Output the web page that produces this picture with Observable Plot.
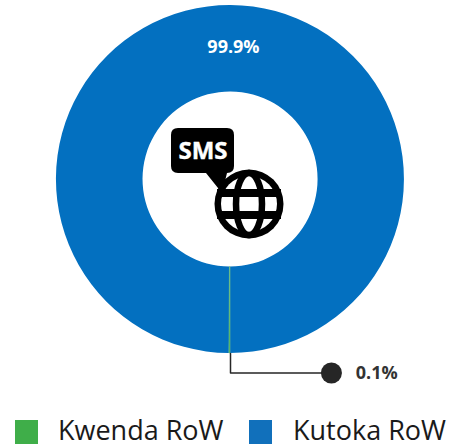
<!DOCTYPE html>
<html><head><meta charset="utf-8">
<script src="https://cdn.jsdelivr.net/npm/d3@7"></script>
<script src="https://cdn.jsdelivr.net/npm/@observablehq/plot@0.6"></script>
<style>
html,body{margin:0;padding:0;background:#fff;overflow:hidden}
body{width:456px;height:448px;font-family:"Open Sans",sans-serif}
svg{display:block}
#legend{position:relative;height:33px;color:#1a1a1a;font-size:27px;line-height:33px}
#legend span{position:absolute;top:-2px;white-space:nowrap}
#legend i{position:absolute;top:5px;width:23px;height:24px}
</style></head><body>
<div id="chart"></div>
<div id="legend"></div>
<script>
const categories = ["Kwenda RoW", "Kutoka RoW"];
const shares = [0.1, 99.9];
const labels = ["0.1%", "99.9%"];
const sliceColors = ["#3fae49", "#0370c0"];
const legendColors = ["#3fae49", "#1170bb"];
const innerRatio = 0.503;

const data = categories.map((name, i) => ({name, share: shares[i], label: labels[i], color: sliceColors[i]}));
const arcs = d3.pie().sort(null).value(d => d.share).startAngle(Math.PI).endAngle(3 * Math.PI)(data);
const midRadius = (1 + innerRatio) / 2;
const blue = arcs[1];
const blueLabel = [{x: 0.017, y: midRadius + 0.006, text: blue.data.label}];
const elbowY = -1.112;
const leader = [{x: 0, y: -1}, {x: 0, y: elbowY}, {x: 0.58, y: elbowY}];
const dotPoint = [leader[2]];
const outLabel = [{x: 0.72, y: elbowY, text: arcs[0].data.label}];

function donut(index, {x, y}) {
  const unit = x(1) - x(0);
  const g = d3.create("svg:g").attr("transform", `translate(${x(0)},${y(0)})`);
  const arc = d3.arc().innerRadius(unit * innerRatio).outerRadius(unit);
  g.selectAll("path").data([arcs[1], arcs[0]]).join("path").attr("d", arc).attr("fill", d => d.data.color)
    .attr("stroke", d => d.index === 0 ? "#6fc08a" : "none").attr("stroke-width", 0.6);
  return g.node();
}

function icon(index, {x, y}) {
  const g = d3.create("svg:g").attr("transform", `translate(${x(0)},${y(0)})`);
  // speech bubble
  g.append("path").attr("fill", "#000")
    .attr("d", "M-52,-51 H-3 Q4,-51 4,-44 V-13 Q4,-6 -3,-6 H-3 L-8,14 L-24,-6 H-52 Q-59,-6 -59,-13 V-44 Q-59,-51 -52,-51 Z");
  g.append("text").attr("x", -27).attr("y", -20).attr("text-anchor", "middle")
    .attr("font-family", "Open Sans").attr("font-weight", 700).attr("font-size", 24).attr("fill", "#fff").attr("stroke", "#fff").attr("stroke-width", 0.4).text("SMS");
  // globe
  const globe = g.append("g").attr("transform", "translate(19,25)");
  globe.append("circle").attr("r", 34.5).attr("fill", "#000");
  globe.append("circle").attr("r", 28).attr("fill", "#fff");
  globe.append("ellipse").attr("rx", 13).attr("ry", 31).attr("fill", "none").attr("stroke", "#000").attr("stroke-width", 6.5);
  globe.append("line").attr("x1", -32).attr("x2", 32).attr("y1", -11).attr("y2", -11).attr("stroke", "#000").attr("stroke-width", 8);
  globe.append("line").attr("x1", -32).attr("x2", 32).attr("y1", 11).attr("y2", 11).attr("stroke", "#000").attr("stroke-width", 8);
  return g.node();
}

const plot = Plot.plot({
  width: 456, height: 415,
  marginTop: 0, marginRight: 0, marginBottom: 0, marginLeft: 0,
  style: {fontFamily: "'Open Sans',sans-serif", background: "#fff"},
  x: {domain: [-1, 1], range: [56, 404], axis: null},
  y: {domain: [-1, 1], range: [353, 5], axis: null},
  marks: [
    donut,
    icon,
    Plot.text(blueLabel, {x: "x", y: "y", text: "text", fill: "#fff", fontWeight: 700, fontSize: 18}),
    Plot.line(leader, {x: "x", y: "y", stroke: "#262626", strokeWidth: 1.5}),
    Plot.dot(dotPoint, {x: "x", y: "y", r: 10.5, fill: "#262626"}),
    Plot.text(outLabel, {x: "x", y: "y", text: "text", fill: "#333", fontWeight: 700, fontSize: 18, textAnchor: "start"})
  ]
});
document.getElementById("chart").append(plot);

const legend = document.getElementById("legend");
const swatchX = [15, 249], textX = [58, 293];
categories.forEach((name, i) => {
  const sw = document.createElement("i");
  sw.style.left = swatchX[i] + "px";
  sw.style.background = legendColors[i];
  legend.append(sw);
  const t = document.createElement("span");
  t.style.left = textX[i] + "px";
  t.textContent = name;
  legend.append(t);
});
</script>
</body></html>
